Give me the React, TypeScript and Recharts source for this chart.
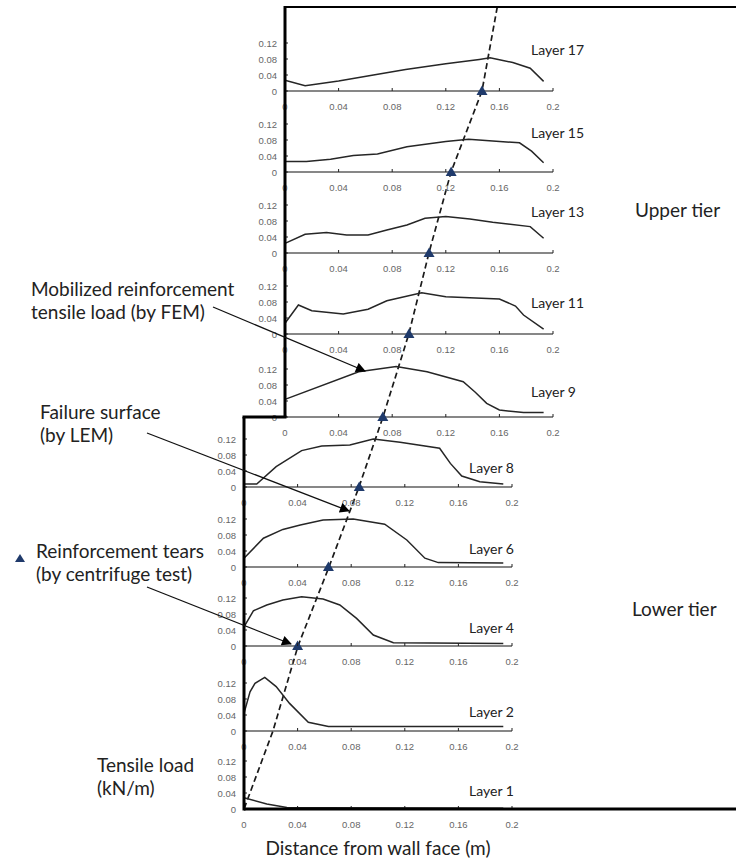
import React from 'react';
import { ComposedChart, Line, Scatter, XAxis, YAxis } from 'recharts';

// ---------------- data ----------------
const layerNames = ['Layer 17', 'Layer 15', 'Layer 13', 'Layer 11', 'Layer 9', 'Layer 8', 'Layer 6', 'Layer 4', 'Layer 2', 'Layer 1'];
const layerTier = ['upper', 'upper', 'upper', 'upper', 'upper', 'lower', 'lower', 'lower', 'lower', 'lower'];

const xTicks = [0, 0.04, 0.08, 0.12, 0.16, 0.2];
const xTickLabels = ['0', '0.04', '0.08', '0.12', '0.16', '0.2'];
const yTicks = [0, 0.04, 0.08, 0.12];
const yTickLabels = ['0', '0.04', '0.08', '0.12'];

// distance from wall face (m) / mobilized tensile load by FEM (kN/m)
const layer17Dist = [0, 0.015, 0.04, 0.066, 0.09, 0.12, 0.145, 0.153, 0.16, 0.17, 0.183, 0.193];
const layer17Load = [0.027, 0.013, 0.025, 0.04, 0.054, 0.068, 0.079, 0.083, 0.078, 0.071, 0.057, 0.024];
const layer15Dist = [0, 0.016, 0.034, 0.051, 0.069, 0.091, 0.12, 0.137, 0.175, 0.184, 0.193];
const layer15Load = [0.026, 0.026, 0.032, 0.041, 0.045, 0.063, 0.076, 0.082, 0.073, 0.052, 0.023];
const layer13Dist = [0, 0.015, 0.031, 0.046, 0.062, 0.076, 0.091, 0.1045, 0.12, 0.138, 0.155, 0.183, 0.193];
const layer13Load = [0.024, 0.047, 0.051, 0.045, 0.045, 0.0575, 0.07, 0.087, 0.091, 0.085, 0.077, 0.066, 0.037];
const layer11Dist = [0, 0.01, 0.02, 0.0435, 0.062, 0.076, 0.102, 0.12, 0.16, 0.172, 0.178, 0.193];
const layer11Load = [0.027, 0.0725, 0.058, 0.05, 0.062, 0.083, 0.103, 0.093, 0.0875, 0.07, 0.0475, 0.012];
const layer9Dist = [0, 0.055, 0.083, 0.106, 0.133, 0.142, 0.1505, 0.16, 0.178, 0.193];
const layer9Load = [0.044, 0.113, 0.126, 0.113, 0.088, 0.062, 0.034, 0.0175, 0.011, 0.011];
const layer8Dist = [0, 0.0095, 0.024, 0.043, 0.058, 0.079, 0.0965, 0.1165, 0.146, 0.154, 0.1625, 0.176, 0.1935];
const layer8Load = [0.0075, 0.0075, 0.051, 0.091, 0.1025, 0.105, 0.12, 0.112, 0.097, 0.059, 0.0275, 0.013, 0.0075];
const layer6Dist = [0, 0.0145, 0.029, 0.042, 0.059, 0.0815, 0.105, 0.1215, 0.135, 0.145, 0.1935];
const layer6Load = [0.022, 0.072, 0.094, 0.105, 0.1175, 0.12, 0.107, 0.0675, 0.022, 0.011, 0.01];
const layer4Dist = [0, 0.007, 0.017, 0.029, 0.043, 0.059, 0.0715, 0.084, 0.0965, 0.1115, 0.1935];
const layer4Load = [0.048, 0.088, 0.1025, 0.115, 0.123, 0.1175, 0.1025, 0.069, 0.0275, 0.008, 0.006];
const layer2Dist = [0, 0.0045, 0.0082, 0.0155, 0.024, 0.034, 0.048, 0.063, 0.1935];
const layer2Load = [0.044, 0.098, 0.119, 0.134, 0.111, 0.069, 0.022, 0.011, 0.011];
const layer1Dist = [0, 0.017, 0.032, 0.06, 0.1935];
const layer1Load = [0.028, 0.0125, 0.004, 0.003, 0.002];

const layerDist = [layer17Dist, layer15Dist, layer13Dist, layer11Dist, layer9Dist, layer8Dist, layer6Dist, layer4Dist, layer2Dist, layer1Dist];
const layerLoad = [layer17Load, layer15Load, layer13Load, layer11Load, layer9Load, layer8Load, layer6Load, layer4Load, layer2Load, layer1Load];

// reinforcement tears by centrifuge test (distance from wall face, m)
const tearDist = [0.147, 0.124, 0.1075, 0.0925, 0.073, 0.086, 0.063, 0.04, null, null];

// failure surface by LEM: distance from lower-tier wall face (m) at each layer, plus crest
const upperTierSetback = 0.0306;
const failureCrestX = 0.189;
const failureX = [0.1776, 0.1545, 0.138, 0.123, 0.1037, 0.0858, 0.0634, 0.0403, 0.0216, 0.0];

// ---------------- layout ----------------
const W = 736;
const H = 860;
const PX_PER_M = 1340;
const PX_PER_KN = 400;
const X_MAX = 0.2;
const Y_MAX = 0.14;
const LOWER_X0 = 244;
const TIER_X0: Record<string, number> = { upper: LOWER_X0 + upperTierSetback * PX_PER_M, lower: LOWER_X0 };
const BASELINE_Y = [91, 172, 253, 334, 417, 487, 567, 646, 731, 809];
const LABEL_RISE = [36, 34, 36, 26, 20, 14, 13, 13, 14, 13];
const LABEL_X: Record<string, number> = { upper: 531, lower: 469 };
const FRAME_TOP = 7;

const TEXT_FONT = 'Lato, "Open Sans", "Liberation Sans", sans-serif';
const TICK_FONT = '"Liberation Sans", Arial, sans-serif';
const TEXT_COLOR = '#222222';
const TICK_COLOR = '#666666';
const TEAR_COLOR = '#1f3a6b';

const PLOT_W = X_MAX * PX_PER_M;
const PLOT_H = Y_MAX * PX_PER_KN;
const MT = 6;
const YAXIS_W = 44;
const XAXIS_H = 26;
const MR = 10;

function XTick(props: any) {
  const { x, payload } = props;
  const axisY = MT + PLOT_H;
  const idx = xTicks.indexOf(payload.value);
  return (
    <g>
      <line x1={x} x2={x} y1={axisY} y2={axisY - 3} stroke="#222" strokeWidth={1} />
      <text x={x} y={axisY + 15} textAnchor="middle" dominantBaseline="central" fontSize={9.5} fontFamily={TICK_FONT} fill={TICK_COLOR}>
        {idx >= 0 ? xTickLabels[idx] : payload.value}
      </text>
    </g>
  );
}

function YTick(props: any) {
  const { y, payload } = props;
  const axisX = YAXIS_W;
  const idx = yTicks.indexOf(payload.value);
  return (
    <g>
      <line x1={axisX} x2={axisX + 3} y1={y} y2={y} stroke="#222" strokeWidth={1} />
      <text x={axisX - 8} y={y} textAnchor="end" dominantBaseline="central" fontSize={9.5} fontFamily={TICK_FONT} fill={TICK_COLOR}>
        {idx >= 0 ? yTickLabels[idx] : payload.value}
      </text>
    </g>
  );
}

function Tri(props: any) {
  const { cx, cy } = props;
  if (cx == null || cy == null) return null;
  return <polygon points={`${cx - 5.5},${cy + 4} ${cx + 5.5},${cy + 4} ${cx},${cy - 5.5}`} fill={TEAR_COLOR} />;
}

function Panel({ i }: { i: number }) {
  const x0 = TIER_X0[layerTier[i]];
  const yb = BASELINE_Y[i];
  const data = layerDist[i].map((d, k) => ({ x: d, y: layerLoad[i][k] }));
  const tear = tearDist[i];
  return (
    <div style={{ position: 'absolute', left: x0 - YAXIS_W, top: yb - PLOT_H - MT }}>
      <ComposedChart
        width={YAXIS_W + PLOT_W + MR}
        height={MT + PLOT_H + XAXIS_H}
        data={data}
        margin={{ top: MT, right: MR, bottom: 0, left: 0 }}
      >
        <XAxis
          type="number"
          dataKey="x"
          domain={[0, X_MAX]}
          ticks={xTicks}
          interval={0}
          height={XAXIS_H}
          tickLine={false}
          axisLine={{ stroke: '#111', strokeWidth: 1.2 }}
          tick={(p: any) => <XTick {...p} />}
        />
        <YAxis
          type="number"
          dataKey="y"
          domain={[0, Y_MAX]}
          ticks={yTicks}
          interval={0}
          width={YAXIS_W}
          tickLine={false}
          axisLine={false}
          tick={(p: any) => <YTick {...p} />}
        />
        <Line type="linear" dataKey="y" stroke="#262626" strokeWidth={1.5} dot={false} isAnimationActive={false} />
        {tear != null ? (
          <Scatter data={[{ x: tear, y: 0 }]} dataKey="y" shape={(p: any) => <Tri {...p} />} isAnimationActive={false} />
        ) : null}
      </ComposedChart>
    </div>
  );
}

function FailureOverlay() {
  const pts = [{ x: failureCrestX, y: FRAME_TOP }].concat(
    failureX.map((fx, i) => ({ x: fx, y: BASELINE_Y[i] }))
  );
  return (
    <div style={{ position: 'absolute', left: 0, top: 0 }}>
      <ComposedChart
        width={W}
        height={H}
        data={pts}
        margin={{ top: 0, right: W - LOWER_X0 - PLOT_W, bottom: 0, left: LOWER_X0 }}
      >
        <XAxis hide type="number" dataKey="x" domain={[0, X_MAX]} />
        <YAxis hide type="number" dataKey="y" domain={[0, H]} reversed />
        <Line type="linear" dataKey="y" stroke="#1a1a1a" strokeWidth={1.7} strokeDasharray="6 3.5" dot={false} isAnimationActive={false} />
      </ComposedChart>
    </div>
  );
}

function Annotations() {
  const upX = TIER_X0.upper;
  const t = (x: number, y: number, s: string, size = 19, anchor = 'start') => (
    <text x={x} y={y} fontSize={size} fontFamily={TEXT_FONT} fill={TEXT_COLOR} textAnchor={anchor as any}>
      {s}
    </text>
  );
  return (
    <svg width={W} height={H} style={{ position: 'absolute', left: 0, top: 0 }}>
      <defs>
        <marker id="ah" viewBox="0 0 10 10" refX="9" refY="5" markerWidth="12" markerHeight="10" markerUnits="userSpaceOnUse" orient="auto">
          <path d="M0,0 L10,5 L0,10 z" fill="#000" />
        </marker>
      </defs>
      {/* frame */}
      <line x1={upX} x2={W} y1={FRAME_TOP} y2={FRAME_TOP} stroke="#000" strokeWidth={2} />
      <line x1={upX} x2={upX} y1={FRAME_TOP - 1} y2={BASELINE_Y[4]} stroke="#000" strokeWidth={3} />
      <line x1={LOWER_X0 - 1.5} x2={upX + 1.5} y1={BASELINE_Y[4]} y2={BASELINE_Y[4]} stroke="#000" strokeWidth={3} />
      <line x1={LOWER_X0} x2={LOWER_X0} y1={BASELINE_Y[4]} y2={BASELINE_Y[9] + 1.5} stroke="#000" strokeWidth={3} />
      <line x1={LOWER_X0} x2={W} y1={BASELINE_Y[9]} y2={BASELINE_Y[9]} stroke="#000" strokeWidth={3} />

      {/* layer labels */}
      {layerNames.map((n, i) => (
        <text key={n} x={LABEL_X[layerTier[i]]} y={BASELINE_Y[i] - LABEL_RISE[i]} fontSize={14} fontFamily={TEXT_FONT} fill={TEXT_COLOR}>
          {n}
        </text>
      ))}

      {/* arrows */}
      <line x1={213} y1={307} x2={365} y2={371} stroke="#111" strokeWidth={1.3} markerEnd="url(#ah)" />
      <line x1={147} y1={433} x2={349} y2={511} stroke="#111" strokeWidth={1.3} markerEnd="url(#ah)" />
      <line x1={147} y1={587} x2={291} y2={644} stroke="#111" strokeWidth={1.3} markerEnd="url(#ah)" />

      {/* texts */}
      {t(31, 296, 'Mobilized reinforcement')}
      {t(31, 319, 'tensile load (by FEM)')}
      {t(40, 419, 'Failure surface')}
      {t(40, 442, '(by LEM)')}
      <polygon points="15,562 25,562 20,554" fill={TEAR_COLOR} />
      {t(36, 558, 'Reinforcement tears')}
      {t(36, 581, '(by centrifuge test)')}
      {t(97, 772, 'Tensile load')}
      {t(97, 795, '(kN/m)')}
      {t(635, 217, 'Upper tier')}
      {t(632, 616, 'Lower tier')}
      {t(378, 855, 'Distance from wall face (m)', 19, 'middle')}
    </svg>
  );
}

export default function App() {
  return (
    <div style={{ position: 'absolute', left: 0, top: 0, width: W, height: H, background: '#fff', overflow: 'hidden' }}>
      <FailureOverlay />
      {layerNames.map((_, i) => (
        <Panel key={i} i={i} />
      ))}
      <Annotations />
    </div>
  );
}
